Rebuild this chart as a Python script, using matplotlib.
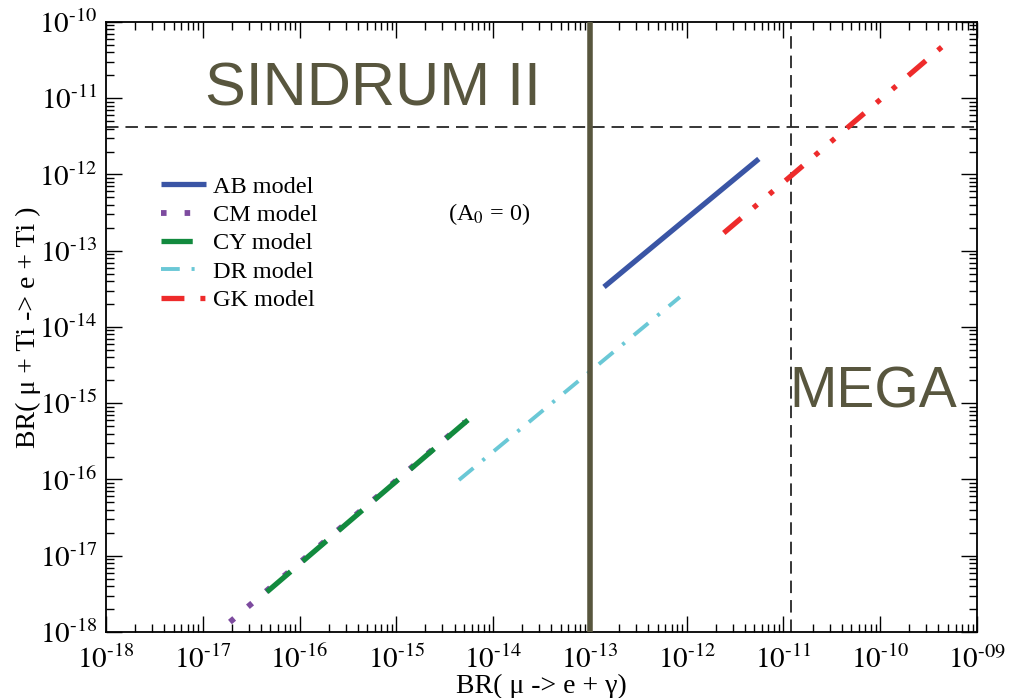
import matplotlib
matplotlib.use("Agg")
import matplotlib.pyplot as plt
from matplotlib.ticker import LogLocator, FixedLocator, FixedFormatter, NullFormatter

plt.rcParams['font.family'] = ['Liberation Serif', 'DejaVu Serif']
plt.rcParams['mathtext.fontset'] = 'stix'
plt.rcParams['lines.scale_dashes'] = False

# model curves
ab_x = [1.40e-13, 7.19e-13, 5.57e-12]
ab_y = [3.35e-14, 1.87e-13, 1.60e-12]
cm_x = [1.91e-17, 5.13e-15]
cm_y = [1.35e-18, 5.68e-16]
cy_x = [4.60e-17, 5.50e-15]
cy_y = [3.35e-18, 6.03e-16]
dr_x = [4.44e-15, 8.51e-13]
dr_y = [9.84e-17, 2.47e-14]
gk_x = [2.42e-12, 1.20e-11, 4.33e-10]
gk_y = [1.71e-13, 9.60e-13, 4.70e-11]

# experimental bounds
meg_future = 1.0e-13
mega_limit = 1.2e-11
sindrum_limit = 4.2e-12

xticks = [10.0**e for e in range(-18, -8)]
xticklabels = [r'$10^{\text{-18}}$', r'$10^{\text{-17}}$', r'$10^{\text{-16}}$', r'$10^{\text{-15}}$',
               r'$10^{\text{-14}}$', r'$10^{\text{-13}}$', r'$10^{\text{-12}}$', r'$10^{\text{-11}}$',
               r'$10^{\text{-10}}$', r'$10^{\text{-09}}$']
yticks = [10.0**e for e in range(-18, -9)]
yticklabels = [r'$10^{\text{-18}}$', r'$10^{\text{-17}}$', r'$10^{\text{-16}}$', r'$10^{\text{-15}}$',
               r'$10^{\text{-14}}$', r'$10^{\text{-13}}$', r'$10^{\text{-12}}$', r'$10^{\text{-11}}$',
               r'$10^{\text{-10}}$']

olive = '#58563e'

fig = plt.figure(figsize=(10.12, 6.98), dpi=100)
ax = fig.add_axes([0.1047, 0.0946, 0.8607, 0.8739])
ax.set_xscale('log')
ax.set_yscale('log')
ax.set_xlim(1e-18, 1e-9)
ax.set_ylim(1e-18, 1e-10)

# bounds
ax.axhline(sindrum_limit, color='black', lw=1.1, dashes=(9, 5), zorder=1)
ax.axvline(mega_limit, color='black', lw=1.1, dashes=(9, 5), zorder=1)

ax.plot(ab_x, ab_y, color='#3a55a5', lw=3.8, solid_capstyle='butt', label='AB model', zorder=3)
ax.plot(cm_x, cm_y, color='#7d4b9f', lw=4.2, dashes=(4.0, 13.0), dash_capstyle='butt',
        label='CM model', zorder=3)
ax.plot(cy_x, cy_y, color='#128a3e', lw=3.8, dashes=(22.5, 11.5), dash_capstyle='butt',
        label='CY model', zorder=4)
ax.plot(dr_x, dr_y, color='#6ac8d6', lw=2.8, dashes=(13.5, 8.5, 2.2, 8.5), dash_capstyle='butt',
        label='DR model', zorder=3)
ax.plot(gk_x, gk_y, color='#ee2b2b', lw=3.8, dashes=(16.5, 11.5, 3.6, 11.5, 3.6, 11.5),
        dash_capstyle='butt', label='GK model', zorder=3)

ax.axvline(meg_future, color=olive, lw=4.0, zorder=5)

ax.text(1.05e-17, 8.1e-12, 'SINDRUM II', family='Liberation Sans', fontsize=44,
        color=olive, va='baseline', ha='left')
ax.text(1.16e-11, 8.7e-16, 'MEGA', family='Liberation Sans', fontsize=41,
        color=olive, va='baseline', ha='left', zorder=6)
ax.text(3.4e-15, 3.0e-13, r'(A$_0$ = 0)', fontsize=17.5, va='center', ha='left')

ax.xaxis.set_major_locator(FixedLocator(xticks))
ax.xaxis.set_major_formatter(FixedFormatter(xticklabels))
ax.yaxis.set_major_locator(FixedLocator(yticks))
ax.yaxis.set_major_formatter(FixedFormatter(yticklabels))
ax.xaxis.set_minor_locator(LogLocator(base=10, subs=range(2, 10), numticks=20))
ax.yaxis.set_minor_locator(LogLocator(base=10, subs=range(2, 10), numticks=20))
ax.xaxis.set_minor_formatter(NullFormatter())
ax.yaxis.set_minor_formatter(NullFormatter())
ax.tick_params(which='both', direction='in', top=True, right=True, width=1.0, labelsize=21)
ax.tick_params(which='major', length=11.5)
ax.tick_params(axis='x', which='major', pad=10)
ax.tick_params(axis='y', which='major', pad=6)
ax.tick_params(which='minor', length=5.8)
for s in ax.spines.values():
    s.set_linewidth(1.3)

ax.set_xlabel('BR( μ -> e + γ)', fontsize=20)
ax.set_ylabel('BR( μ + Ti -> e + Ti )', fontsize=20)
ax.xaxis.set_label_coords(0.5, -0.068)
ax.yaxis.set_label_coords(-0.075, 0.5)

ax.legend(loc='upper left', bbox_to_anchor=(0.063, 0.748), frameon=False, fontsize=17.5,
          handlelength=1.85, handletextpad=0.3, labelspacing=0.26, borderpad=0, borderaxespad=0)

fig.savefig('out.png', dpi=100)
